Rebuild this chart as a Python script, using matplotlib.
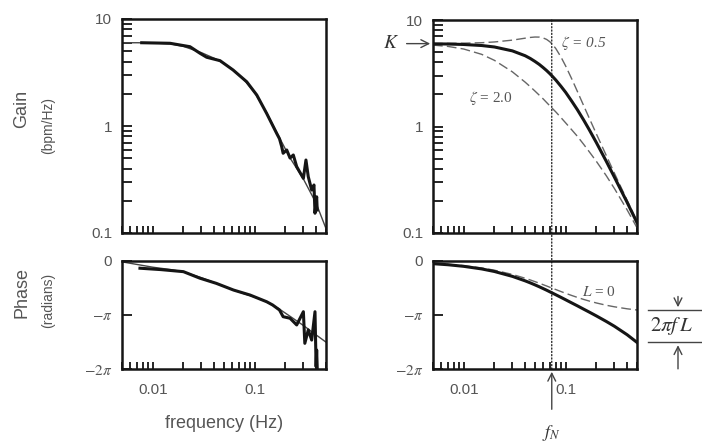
"""
Gain / phase transfer function figure: measured data with fit (left),
second-order model with damping variants (right)
"""

import matplotlib
matplotlib.use("Agg")
import matplotlib.pyplot as plt
import numpy as np
from matplotlib.ticker import FixedLocator, FixedFormatter, LogLocator, NullFormatter
from matplotlib.patches import ConnectionPatch
from matplotlib.lines import Line2D
from matplotlib.transforms import blended_transform_factory

plt.rcParams["font.family"] = ["Liberation Sans", "DejaVu Sans"]
plt.rcParams["mathtext.fontset"] = "stix"

INK = "#151515"
GREY = "#555555"
TWO_PI = 2 * np.pi

# ---- left panels: measured response (thick) and fitted model (thin)
data_freq = [0.0078, 0.0148, 0.0232, 0.0291, 0.0338, 0.0457, 0.0613, 0.0835, 0.1047,
             0.131, 0.164, 0.175, 0.184, 0.19, 0.206, 0.222, 0.239, 0.258, 0.30, 0.318,
             0.335, 0.362, 0.381, 0.39, 0.405, 0.41]
data_gain = [6.0, 5.93, 5.51, 4.78, 4.39, 4.08, 3.34, 2.59, 1.95,
             1.31, 0.855, 0.76, 0.64, 0.556, 0.597, 0.502, 0.536, 0.417, 0.324, 0.481,
             0.336, 0.252, 0.281, 0.153, 0.218, 0.164]

phase_freq = [0.0075, 0.012, 0.02, 0.029, 0.042, 0.062, 0.09, 0.131, 0.15, 0.175, 0.19,
              0.222, 0.258, 0.30, 0.31, 0.335, 0.362, 0.39, 0.40, 0.405, 0.41]
phase_data = [-0.42, -0.5, -0.62, -1.0, -1.3, -1.69, -1.98, -2.37, -2.56, -2.85, -3.24,
              -3.33, -3.72, -2.95, -4.79, -4.01, -4.6, -2.95, -6.15, -5.18, -6.2]

fit_freq = [0.005, 0.007, 0.01, 0.015, 0.02, 0.03, 0.04, 0.05, 0.06, 0.07, 0.08, 0.1,
            0.13, 0.17, 0.22, 0.3, 0.4, 0.5]
fit_gain = [6.0, 6.0, 5.97, 5.85, 5.55, 4.85, 4.3, 3.85, 3.4, 3.0, 2.65, 2.05,
            1.35, 0.82, 0.51, 0.32, 0.19, 0.11]
fit_phase = [-0.05, -0.2, -0.36, -0.5, -0.63, -0.97, -1.25, -1.47, -1.66, -1.8, -1.92, -2.1,
             -2.37, -2.75, -3.2, -3.75, -4.3, -4.72]

# ---- right panels: model curves
model_freq = [0.005, 0.007, 0.01, 0.015, 0.02, 0.03, 0.04, 0.045, 0.05, 0.055, 0.06, 0.065,
              0.07, 0.075, 0.08, 0.09, 0.1, 0.115, 0.13, 0.15, 0.17, 0.2, 0.25, 0.3, 0.4, 0.5]
gain_z10 = [5.97, 5.95, 5.89, 5.76, 5.58, 5.13, 4.62, 4.35, 4.08, 3.83, 3.58, 3.35,
            3.13, 2.92, 2.73, 2.38, 2.09, 1.72, 1.44, 1.15, 0.934, 0.705, 0.471, 0.335, 0.194, 0.125]
gain_z05 = [6.01, 6.03, 6.06, 6.12, 6.22, 6.47, 6.75, 6.86, 6.92, 6.91, 6.79, 6.57,
            6.24, 5.83, 5.39, 4.48, 3.69, 2.78, 2.14, 1.57, 1.20, 0.85, 0.534, 0.365, 0.203, 0.129]
gain_z20 = [5.81, 5.65, 5.34, 4.76, 4.18, 3.26, 2.61, 2.36, 2.15, 1.97, 1.82, 1.68,
            1.56, 1.46, 1.37, 1.21, 1.08, 0.927, 0.81, 0.68, 0.58, 0.47, 0.345, 0.262, 0.165, 0.112]
phase_L0 = [-0.137, -0.191, -0.272, -0.404, -0.535, -0.781, -1.003, -1.104, -1.201, -1.290,
            -1.376, -1.454, -1.530, -1.598, -1.662, -1.778, -1.880, -2.010, -2.116, -2.236,
            -2.330, -2.442, -2.574, -2.664, -2.781, -2.851]
phase_model = [-0.156, -0.217, -0.310, -0.461, -0.610, -0.894, -1.154, -1.274, -1.389, -1.497,
               -1.602, -1.699, -1.794, -1.881, -1.964, -2.117, -2.257, -2.444, -2.606, -2.802,
               -2.971, -3.196, -3.517, -3.795, -4.289, -4.736]

K = 6.0
f_N = 0.073

W, H = 702, 445
fig = plt.figure(figsize=(W / 100, H / 100), dpi=100, facecolor="white")


def box(x0, y0, x1, y1):
    return [x0 / W, 1 - y1 / H, (x1 - x0) / W, (y1 - y0) / H]


def style(ax, gain, show_x):
    ax.set_xscale("log")
    ax.set_xlim(0.005, 0.5)
    ax.xaxis.set_major_locator(FixedLocator([0.01, 0.1]))
    ax.xaxis.set_major_formatter(FixedFormatter(["0.01", "0.1"]))
    ax.xaxis.set_minor_locator(LogLocator(base=10, subs=np.arange(2, 10)))
    ax.xaxis.set_minor_formatter(NullFormatter())
    if gain:
        ax.set_yscale("log")
        ax.set_ylim(0.1, 10)
        ax.yaxis.set_major_locator(FixedLocator([0.1, 1, 10]))
        ax.yaxis.set_major_formatter(FixedFormatter(["0.1", "1", "10"]))
        ax.yaxis.set_minor_locator(LogLocator(base=10, subs=np.arange(2, 10)))
        ax.yaxis.set_minor_formatter(NullFormatter())
    else:
        ax.set_ylim(-TWO_PI, 0)
        ax.yaxis.set_major_locator(FixedLocator([-TWO_PI, -np.pi, 0]))
        ax.yaxis.set_major_formatter(FixedFormatter([r"$-2\pi$", r"$-\pi$", "0"]))
    for s in ax.spines.values():
        s.set_linewidth(1.8)
        s.set_color(INK)
    ax.tick_params(which="both", direction="in", top=False, right=False,
                   color=INK, width=1.3, labelcolor=GREY, labelsize=11)
    ax.tick_params(axis="x", which="both", length=5, pad=10, labelbottom=show_x)
    ax.tick_params(axis="y", which="both", length=7, pad=7)


ax_lg = fig.add_axes(box(122, 19, 326, 233))
ax_lp = fig.add_axes(box(122, 261, 326, 369))
ax_rg = fig.add_axes(box(433, 20, 637, 233))
ax_rp = fig.add_axes(box(433, 261, 637, 369))
style(ax_lg, True, False)
style(ax_lp, False, True)
style(ax_rg, True, False)
style(ax_rp, False, True)

# left: data + fit
ax_lg.plot(fit_freq, fit_gain, color="#444444", lw=1.0)
ax_lg.plot(data_freq, data_gain, color=INK, lw=2.2)
ax_lp.plot(fit_freq, fit_phase, color="#444444", lw=1.0)
ax_lp.plot(phase_freq, phase_data, color=INK, lw=2.2)

# right: model
dash = (0, (7, 3))
ax_rg.plot(model_freq, gain_z05, color="#666666", lw=1.0, ls=dash)
ax_rg.plot(model_freq, gain_z20, color="#666666", lw=1.0, ls=dash)
ax_rg.plot(model_freq, gain_z10, color=INK, lw=2.2)
ax_rp.plot(model_freq, phase_L0, color="#666666", lw=1.0, ls=dash)
ax_rp.plot(model_freq, phase_model, color=INK, lw=2.2)

ax_rg.text(0.09, 6.1, r"$\zeta$ = 0.5", color=GREY, fontsize=11, family="Liberation Serif",
           style="italic", ha="left", va="center")
ax_rg.text(0.0113, 1.85, r"$\zeta$ = 2.0", color=GREY, fontsize=11, family="Liberation Serif",
           ha="left", va="center")
ax_rp.text(0.146, -1.8, r"$L$ = 0", color=GREY, fontsize=11, family="Liberation Serif",
           ha="left", va="center")

arrow = dict(arrowstyle="->", color="#444444", lw=1.0, mutation_scale=14)

# K arrow
ax_rg.annotate("", xy=(0.005, K), xytext=(-21, 0), textcoords="offset points",
               arrowprops=arrow, annotation_clip=False)
ax_rg.annotate("$K$", xy=(0.005, K), xytext=(-30, 0), textcoords="offset points",
               ha="center", va="center", fontsize=14, color="#333333", annotation_clip=False)

# natural frequency marker
fig.add_artist(ConnectionPatch(xyA=(f_N, 10), coordsA=ax_rg.transData,
                               xyB=(f_N, -TWO_PI), coordsB=ax_rp.transData,
                               ls=":", lw=0.9, color=INK))
ax_rp.annotate("", xy=(f_N, -TWO_PI), xytext=(0, -31), textcoords="offset points",
               arrowprops=arrow, annotation_clip=False)
ax_rp.annotate("$f_N$", xy=(f_N, -TWO_PI), xytext=(0, -46), textcoords="offset points",
               ha="center", va="center", fontsize=13, color="#333333", annotation_clip=False)

# delay bracket 2*pi*f*L
tr = blended_transform_factory(fig.transFigure, ax_rp.transData)
top_y, bot_y = phase_L0[-1], phase_model[-1]
for yv in (top_y, bot_y):
    fig.add_artist(Line2D([648 / W, 1.0], [yv, yv], transform=tr, color="#444444", lw=1.0))
ax_rp.annotate("", xy=(678 / W, top_y), xycoords=tr, xytext=(678 / W, top_y + 0.95),
               textcoords=tr, arrowprops=arrow, annotation_clip=False)
ax_rp.annotate("", xy=(678 / W, bot_y), xycoords=tr, xytext=(678 / W, bot_y - 1.7),
               textcoords=tr, arrowprops=arrow, annotation_clip=False)
ax_rp.text(650 / W, (top_y + bot_y) / 2, r"$2\pi f\,L$", transform=tr, ha="left",
           va="center", fontsize=15, color="#333333")

# axis titles
fig.text(22 / W, 1 - 109 / H, "Gain", rotation=90, ha="center", va="center", fontsize=13, color=GREY)
fig.text(48 / W, 1 - 125 / H, "(bpm/Hz)", rotation=90, ha="center", va="center", fontsize=10, color=GREY)
fig.text(22 / W, 1 - 293 / H, "Phase", rotation=90, ha="center", va="center", fontsize=13, color=GREY)
fig.text(48 / W, 1 - 300 / H, "(radians)", rotation=90, ha="center", va="center", fontsize=10, color=GREY)
fig.text(224 / W, 1 - 423 / H, "frequency (Hz)", ha="center", va="center", fontsize=13, color=GREY)

fig.savefig("out.png", dpi=100, facecolor="white")
